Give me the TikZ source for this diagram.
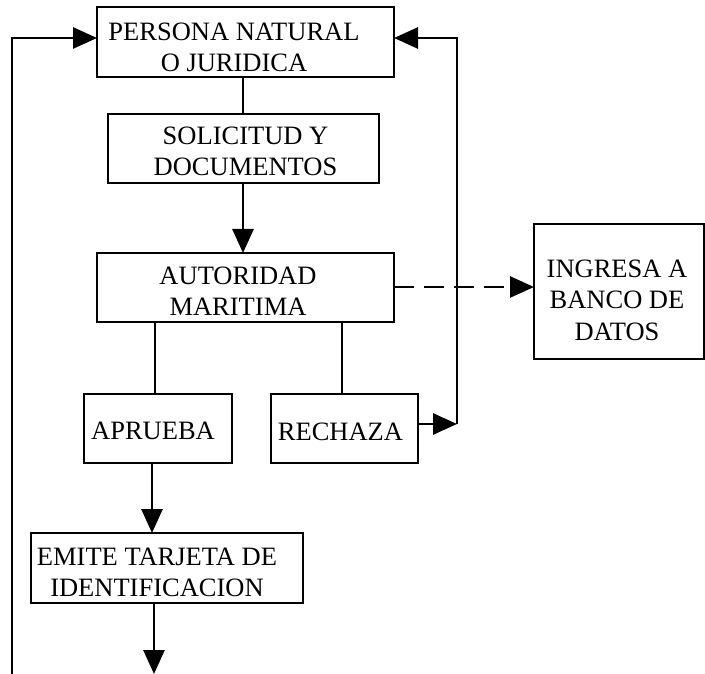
\documentclass[tikz,border=0pt]{standalone}
\usepackage{fontspec}
\setmainfont{Liberation Serif}
\usetikzlibrary{arrows.meta}
\begin{document}
\begin{tikzpicture}[x=1pt,y=-1pt,
 box/.style={draw,line width=2.8pt,inner sep=0pt,outer sep=0pt},
 lbl/.style={align=center,inner sep=0pt,text height=17.5pt,text depth=0pt,font=\fontsize{26.5}{31.5}\selectfont},
 two/.style={yshift=-15.75pt},
 three/.style={yshift=-31.5pt},
 conn/.style={line width=2.8pt},
 arr/.style={conn,-{Triangle[length=24pt,width=21pt]}}]
\useasboundingbox (0,0) rectangle (705,674);
% boxes
\node[box,minimum width=297pt,minimum height=70pt] (b1) at (245.5,42) {};
\node[box,minimum width=271pt,minimum height=69pt] (b2) at (243.5,148.5) {};
\node[box,minimum width=297pt,minimum height=69pt] (b3) at (245.5,287.5) {};
\node[box,minimum width=170pt,minimum height=135pt] (b4) at (619,291.5) {};
\node[box,minimum width=148pt,minimum height=69pt] (b5) at (158,428.5) {};
\node[box,minimum width=147pt,minimum height=69pt] (b6) at (344.5,428.5) {};
\node[box,minimum width=272pt,minimum height=70pt] (b7) at (167,568) {};
% labels
\node[lbl,two] (t1) at (234,47.5) {PERSONA NATURAL\\O JURIDICA};
\node[lbl,two] (t2) at (245.5,151.5) {SOLICITUD Y\\DOCUMENTOS};
\node[lbl,two] (t3) at (238,291.5) {AUTORIDAD\\MARITIMA};
\node[lbl,three] (t4) at (617,300) {INGRESA A\\BANCO DE\\DATOS};
\node[lbl] (t5) at (153,430.5) {APRUEBA};
\node[lbl] (t6) at (340.5,432) {RECHAZA};
\node[lbl,two] (t7) at (157,572) {EMITE TARJETA DE\\IDENTIFICACION};
% coordinates
\coordinate (L) at (12,38);
\coordinate (Lb) at (12,674);
\coordinate (R) at (457,38);
\coordinate (Rb) at (457,424);
\coordinate (E) at (154,674);
% connectors
\draw[conn] (243,0 |- b1.south) -- (243,0 |- b2.north);
\draw[arr] (243,0 |- b2.south) -- (243,0 |- b3.north);
\draw[conn] (155,0 |- b3.south) -- (155,0 |- b5.north);
\draw[conn] (342,0 |- b3.south) -- (342,0 |- b6.north);
\draw[arr] (152,0 |- b5.south) -- (152,0 |- b7.north);
\draw[arr] (154,0 |- b7.south) -- (E);
\draw[arr,dash pattern=on 20pt off 10pt] (b3.east |- 0,287) -- (b4.west |- 0,287);
\draw[arr] (b6.east |- Rb) -- (Rb);
\draw[arr] (Rb) -- (R) -- (b1.east |- R);
\draw[arr] (Lb) -- (L) -- (b1.west |- L);
\end{tikzpicture}
\end{document}
